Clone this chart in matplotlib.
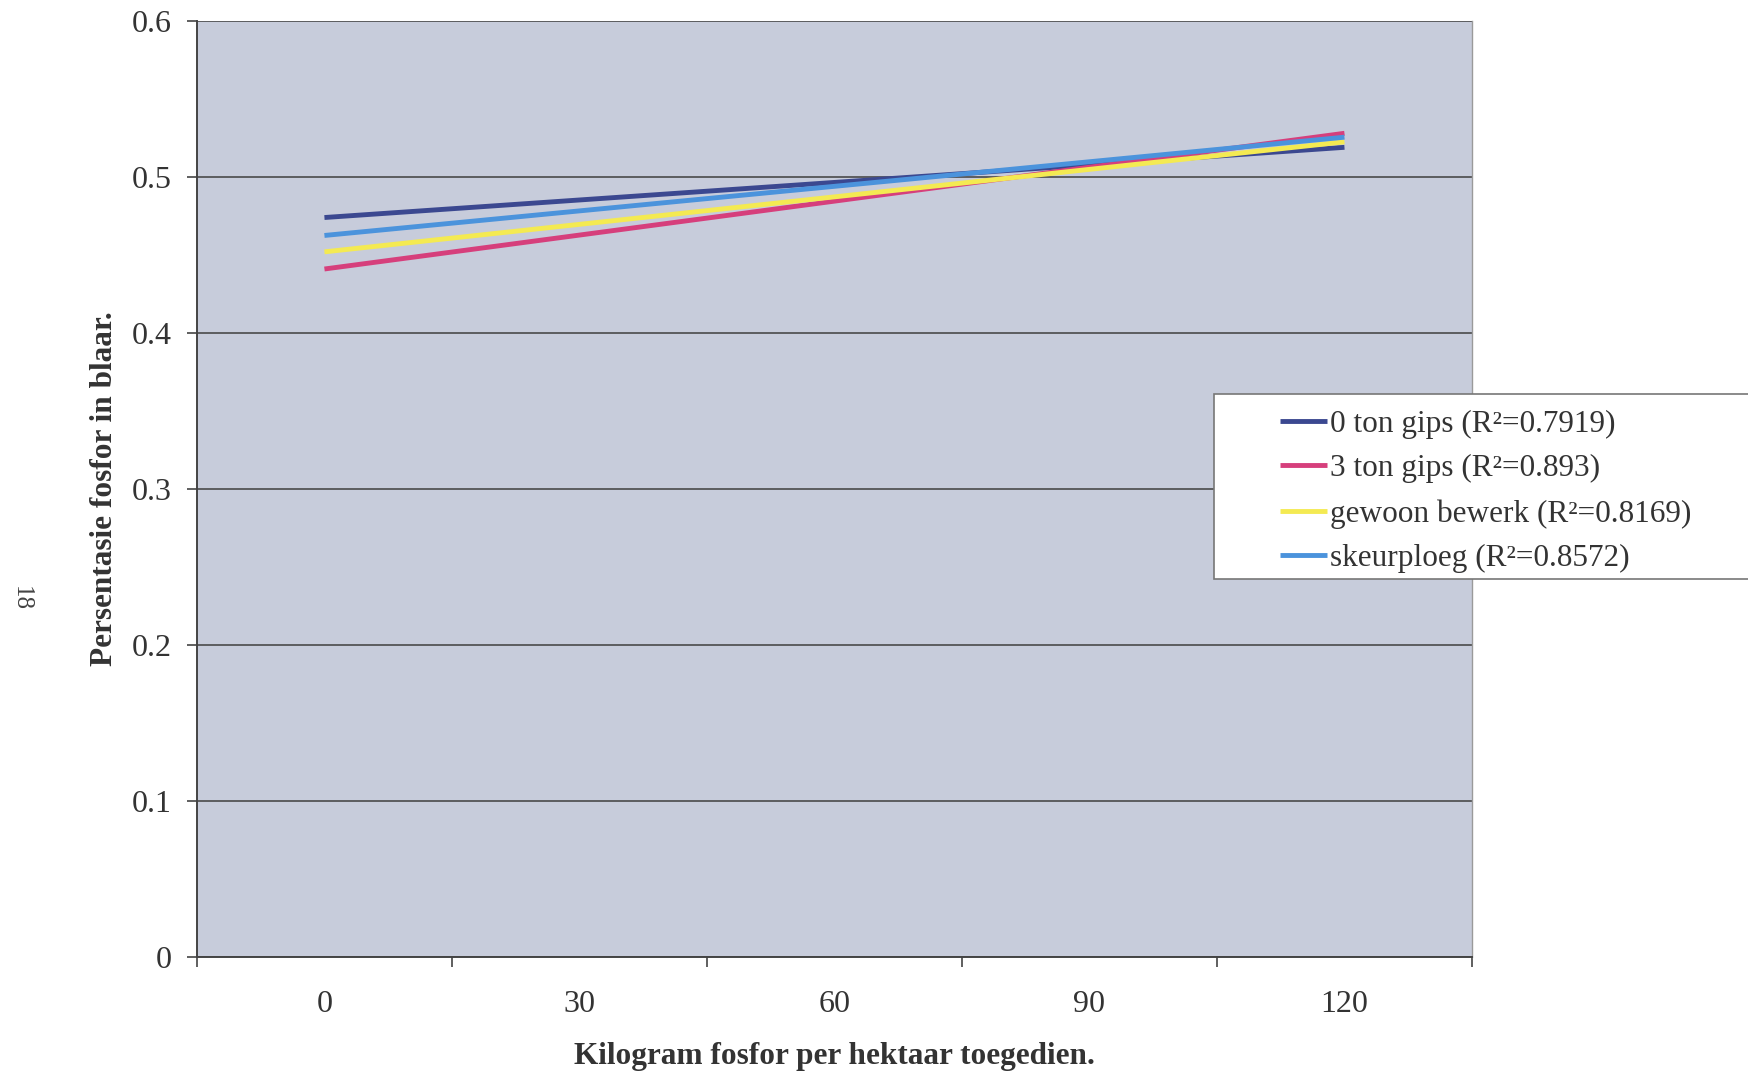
import numpy as np
import matplotlib.pyplot as plt
from matplotlib.patches import Rectangle

# Trendline end points (x = kg P/ha)
x_dose = [0, 120]
y_0_ton = [0.474, 0.519]
y_3_ton = [0.441, 0.528]
y_gewoon = [0.452, 0.5225]
y_skeur = [0.4625, 0.5255]

labels = ["0 ton gips (R²=0.7919)", "3 ton gips (R²=0.893)",
          "gewoon bewerk (R²=0.8169)", "skeurploeg (R²=0.8572)"]
colors = ["#3b4890", "#d63f7c", "#f4ea52", "#4b93dc"]
x_ticks = [0, 30, 60, 90, 120]
y_ticks = [0, 0.1, 0.2, 0.3, 0.4, 0.5, 0.6]

plt.rcParams['font.family'] = ['Liberation Serif', 'DejaVu Serif']

fig = plt.figure(figsize=(17.49, 10.75), dpi=100)
ax = fig.add_axes([0.1126, 0.1098, 0.729, 0.8707])
ax.set_facecolor("#c7ccdb")

series = [y_0_ton, y_3_ton, y_gewoon, y_skeur]
for ys, c, lab in zip(series, colors, labels):
    ax.plot(x_dose, ys, color=c, linewidth=3.5, label=lab, solid_capstyle="butt")

ax.set_xlim(-15, 135)
ax.set_ylim(0, 0.6)
ax.set_yticks(y_ticks)
ax.set_yticklabels(["0", "0.1", "0.2", "0.3", "0.4", "0.5", "0.6"])
ax.grid(axis="y", color="#4a4a4a", linewidth=1.2)
ax.set_axisbelow(True)

# category style x axis: labels centred, ticks between categories
ax.set_xticks(x_ticks)
ax.set_xticklabels([str(v) for v in x_ticks])
ax.set_xticks(np.arange(-15, 136, 30), minor=True)
ax.tick_params(axis="x", which="major", length=0, pad=24, labelsize=23, colors="#333333")
ax.tick_params(axis="x", which="minor", length=7, width=1.2, direction="out", color="#444444")
ax.tick_params(axis="y", length=7, width=1.2, direction="out", pad=11, labelsize=23,
               colors="#444444", labelcolor="#333333")

for s in ["left", "bottom"]:
    ax.spines[s].set_color("#444444")
    ax.spines[s].set_linewidth(1.4)
ax.spines["top"].set_visible(False)
ax.spines["right"].set_color("#9a9a9a")
ax.spines["right"].set_linewidth(1.0)

ax.set_xlabel("Kilogram fosfor per hektaar toegedien.", fontsize=22.5, fontweight="bold",
              color="#333333")
ax.xaxis.set_label_coords(0.5, -0.091)
ax.set_ylabel("Persentasie fosfor in blaar.", fontsize=22.5, fontweight="bold", color="#333333")
ax.yaxis.set_label_coords(-0.061, 0.5)

# legend box (runs off the right edge like the original)
fig.patches.append(Rectangle((0.694, 0.4614), 0.35, 0.172, transform=fig.transFigure,
                             facecolor="white", edgecolor="#777777", linewidth=1.2,
                             zorder=5))
leg = fig.legend(loc="upper left", bbox_to_anchor=(0.723, 0.6335), frameon=False,
                 fontsize=22.5, handlelength=1.5, handletextpad=0.1, labelspacing=0.5,
                 borderpad=0)
leg.set_zorder(6)
for t in leg.get_texts():
    t.set_color("#333333")

# page number on the scanned page
fig.text(0.012, 0.443, "18", rotation=270, fontsize=18, color="#444444",
         ha="center", va="center")

fig.savefig("out.png", dpi=100)
